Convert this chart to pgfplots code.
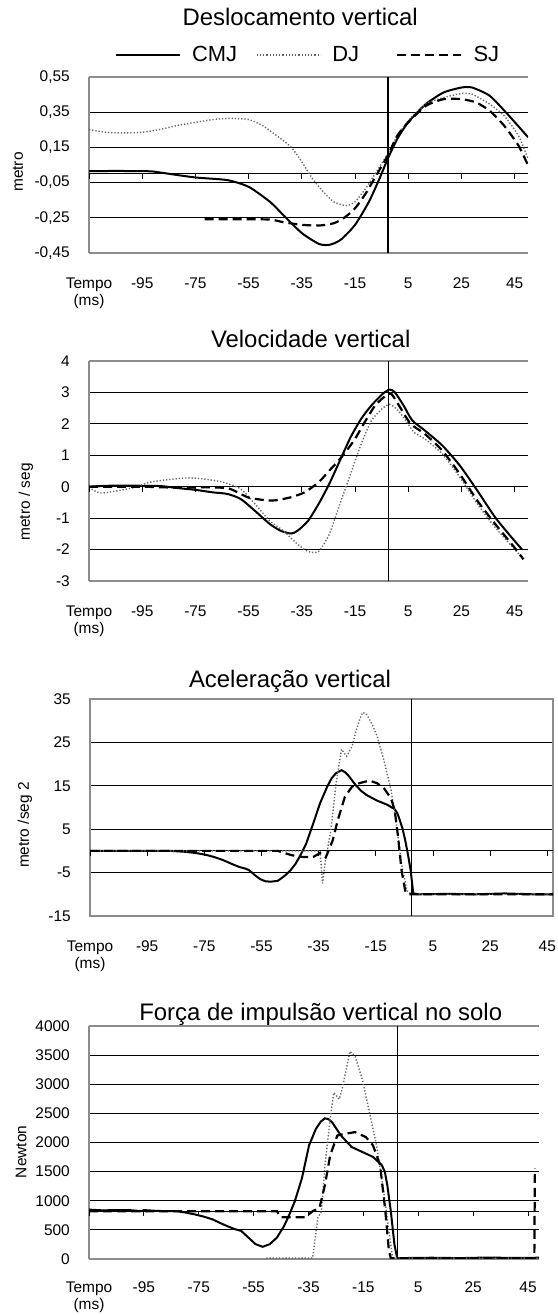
\documentclass[border=0pt]{standalone}
\usepackage{fontspec}
\setmainfont{Liberation Sans}
\usepackage{pgfplots}
\pgfplotsset{compat=1.18}

\newcommand\tickfont{\fontsize{15.5}{17}\selectfont}
\newcommand\titlefont{\fontsize{24}{26}\selectfont}
\newcommand\legfont{\fontsize{22}{24}\selectfont}

\pgfplotsset{
  panel/.style={
    scale only axis,
    xmin=-115,
    axis x line*=box, axis y line*=left,
    axis line style={draw=black!45, line width=2.2bp},
    xtick={-115,-95,-75,-55,-35,-15,5,25,45},
    xticklabels={{Tempo\\(ms)},-95,-75,-55,-35,-15,5,25,45},
    xticklabel style={anchor=north, align=center, inner sep=0pt, yshift=-25bp, font=\tickfont},
    yticklabel style={anchor=east, inner sep=0pt, xshift=-19bp, font=\tickfont},
    major tick length=0pt,
    ymajorgrids, grid style={black, line width=0.9bp},
    ylabel style={font=\tickfont, anchor=center},
    title style={font=\titlefont, anchor=base},
  },
  cmj/.style={black, line width=2bp},
  dj/.style={black!60, line width=1.4bp, dash pattern=on 1.3bp off 1.9bp},
  sj/.style={black, line width=2.2bp, dash pattern=on 9bp off 5bp},
  legend image code/.code={\draw[#1] (0bp,0bp) -- (64bp,0bp);},
}

\begin{document}
\begin{tikzpicture}
\useasboundingbox (0,0) rectangle (558bp,1315bp);

% ---- Deslocamento vertical
\begin{axis}[panel,
  at={(89bp,1062bp)}, anchor=south west,
  width=439bp, height=176bp,
  xmax=50, ymin=-0.45, ymax=0.55,
  ytick={-0.45,-0.25,-0.05,0.15,0.35,0.55},
  yticklabels={{-0,45},{-0,25},{-0,05},{0,15},{0,35},{0,55}},
  extra y ticks={0}, extra y tick labels={},
  title={Deslocamento vertical},
  title style={at={(axis description cs:0.481,1.259)}},
  ylabel={metro},
  ylabel style={at={(axis description cs:-0.162,0.46)}},
  legend columns=3,
  legend style={draw=none, fill=none, inner sep=0pt, font=\legfont,
    at={(axis description cs:0.0588,1.125)}, anchor=west,
    /tikz/every odd column/.append style={column sep=9bp}},
]
\addplot[cmj, smooth, tension=0.4] coordinates {
(-115,0.015) (-105,0.016) (-95,0.015) (-91,0.013) (-85,0.0) (-75,-0.021) (-63,-0.036)
(-55,-0.074) (-47,-0.159) (-42,-0.234) (-35,-0.337) (-28.5,-0.399) (-24.5,-0.403)
(-20.4,-0.375) (-15,-0.29) (-9.8,-0.159) (-5.8,-0.027) (-2.7,0.086) (0.9,0.199)
(5,0.293) (11.6,0.396) (18.3,0.462) (25,0.49) (29,0.49) (35.6,0.443) (42.3,0.339) (50,0.208)
};
\addlegendentry{\makebox[62bp][l]{CMJ}}
\addplot[dj, smooth, tension=0.4] coordinates {
(-115,0.251) (-108.6,0.236) (-102,0.232) (-95,0.236) (-88.6,0.251) (-82,0.274) (-75,0.292)
(-68.5,0.308) (-61.8,0.315) (-55,0.308) (-49.8,0.274) (-44.5,0.217) (-39,0.151) (-35,0.067)
(-31,-0.027) (-27,-0.102) (-23,-0.159) (-18.4,-0.181) (-15,-0.159) (-11,-0.083) (-7,0.011)
(-2.7,0.114) (0.9,0.217) (5,0.302) (11.6,0.396) (18.3,0.433) (25,0.456) (29,0.452)
(35.6,0.396) (41,0.33) (46.4,0.217) (50,0.086)
};
\addlegendentry{\makebox[62bp][l]{DJ}}
\addplot[sj, smooth, tension=0.4] coordinates {
(-71.5,-0.258) (-60,-0.258) (-47,-0.26) (-42,-0.275) (-35,-0.29) (-28.5,-0.294) (-23,-0.281)
(-19,-0.249) (-15,-0.196) (-11,-0.112) (-7,-0.008) (-2.7,0.104) (0.9,0.217) (5,0.293)
(11.6,0.386) (18.3,0.424) (25,0.424) (30.5,0.405) (35.6,0.358) (41,0.274) (46.4,0.161) (50,0.048)
};
\addlegendentry{SJ}
\draw[black, line width=2bp] (axis cs:-2.5,-0.45) -- (axis cs:-2.5,0.55);
\pgfplotsinvokeforeach{-115,-95,-75,-55,-35,-15,5,25,45}{
  \draw[black, line width=0.9bp] (axis cs:#1,0) -- ([yshift=-5bp]axis cs:#1,0);}
\end{axis}

% ---- Velocidade vertical
\begin{axis}[panel,
  at={(89bp,734bp)}, anchor=south west,
  width=439bp, height=220bp,
  xmax=50, ymin=-3, ymax=4,
  ytick={-3,-2,-1,0,1,2,3,4},
  yticklabels={-3,-2,-1,0,1,2,3,4},
  title={Velocidade vertical},
  title style={at={(axis description cs:0.505,1.035)}},
  ylabel={metro / seg},
  ylabel style={at={(axis description cs:-0.1435,0.359)}},
]
\addplot[cmj, smooth, tension=0.4] coordinates {
(-115,0) (-108,0.03) (-95,0.03) (-88,0.02) (-82,-0.04) (-75,-0.1) (-68.5,-0.18) (-63,-0.23)
(-58,-0.39) (-52.6,-0.77) (-47,-1.19) (-43,-1.4) (-39,-1.49) (-36.6,-1.4) (-32.7,-1.09)
(-28.7,-0.55) (-24.7,0.09) (-20.7,0.83) (-16.7,1.57) (-12.7,2.16) (-8.8,2.59) (-4.8,2.94)
(-2.1,3.09) (-0.1,3.01) (3.2,2.59) (6.5,2.11) (11.2,1.79) (17.8,1.31) (24.4,0.67)
(31,-0.13) (37.7,-0.98) (44.4,-1.67) (47.7,-1.99)
};
\addplot[dj, smooth, tension=0.4] coordinates {
(-115,-0.02) (-111,-0.2) (-105.7,-0.15) (-97.7,-0.02) (-92.4,0.14) (-85.8,0.22) (-77.8,0.28)
(-71.2,0.24) (-64.5,0.14) (-58,-0.07) (-52.6,-0.55) (-47,-1.09) (-42,-1.4) (-36.6,-1.83)
(-32.7,-2.06) (-28.7,-2.06) (-24.7,-1.51) (-20.7,-0.55) (-16.7,0.4) (-12.7,1.36) (-8.8,2.11)
(-4.8,2.48) (-2.1,2.62) (0.5,2.48) (3.2,2.21) (7.2,1.73) (11.2,1.52) (17.8,1.04) (24.4,0.3)
(31,-0.55) (37.7,-1.3) (44.4,-1.94) (48.3,-2.31)
};
\addplot[sj, smooth, tension=0.4] coordinates {
(-115,0) (-95,0) (-82,-0.03) (-68.5,-0.02) (-62,-0.07) (-55.2,-0.34) (-48.6,-0.43)
(-44.6,-0.43) (-39.3,-0.34) (-34,-0.18) (-28.7,0.14) (-24.7,0.51) (-20.7,0.88) (-15.4,1.47)
(-11.4,2.05) (-7.4,2.59) (-3.4,2.9) (-1.4,2.96) (1.9,2.53) (5.9,2.0) (11.2,1.68) (17.8,1.15)
(24.4,0.4) (31,-0.45) (37.7,-1.19) (44.4,-1.88) (48.3,-2.31)
};
\draw[black, line width=1bp] (axis cs:-2.5,-3) -- (axis cs:-2.5,4);
\pgfplotsinvokeforeach{-115,-95,-75,-55,-35,-15,5,25,45}{
  \draw[black, line width=0.9bp] (axis cs:#1,0) -- ([yshift=-5bp]axis cs:#1,0);}
\end{axis}

% ---- Aceleracao vertical
\begin{axis}[panel,
  at={(90bp,399bp)}, anchor=south west,
  width=463bp, height=217bp,
  xmax=47, ymin=-15, ymax=35,
  axis x line*=box, axis y line*=box,
  ytick={-15,-5,5,15,25,35},
  yticklabels={-15,-5,5,15,25,35},
  extra y ticks={0}, extra y tick labels={},
  title={Aceleração vertical},
  title style={at={(axis description cs:0.432,1.026)}},
  ylabel={metro /seg 2},
  ylabel style={at={(axis description cs:-0.1404,0.419)}},
]
\addplot[cmj] coordinates {
(-115,0) (-86.5,0) (-82,-0.2) (-77.8,-0.5) (-74.5,-0.9) (-71.6,-1.4) (-68.5,-2.1) (-65.4,-3)
(-62.8,-3.7) (-60.5,-4.1) (-59.2,-4.5) (-57.3,-5.6) (-55.5,-6.5) (-53.6,-7) (-51.8,-7.1)
(-49.3,-6.9) (-46.8,-5.7) (-44.9,-4.5) (-43.1,-3) (-41.2,-0.8) (-39.4,1.6) (-36.9,6.3)
(-34.5,11) (-32,14.8) (-30.4,16.8) (-28.9,17.9) (-27,18.6) (-25.7,18.1) (-24.5,17.3)
(-22.1,15.2) (-20.1,13.8) (-18.3,12.9) (-14.6,11.6) (-10.9,10.6) (-8.4,9.6) (-7.4,8.6)
(-6.6,7.1) (-5.6,5) (-4.7,2.4) (-3.7,-1) (-2.8,-4.5) (-1.9,-9.8) (0,-10) (10,-9.9) (20,-10)
(30,-9.8) (40,-10) (47,-10)
};
\addplot[dj] coordinates {
(-115,0) (-34.5,0) (-33.6,-7.5) (-32.8,-3) (-31.5,2) (-30.7,4.8) (-28.9,15.6) (-27,23.4)
(-25.2,21.8) (-23.3,24.1) (-22.1,27.2) (-20.8,30) (-19.6,31.9) (-18.4,31.6) (-17.2,30.3)
(-15.9,28.6) (-14.6,26.5) (-12.2,21) (-9.7,14.1) (-7.8,6.3) (-6,-3) (-4.1,-9.2) (-2.5,-10) (47,-10)
};
\addplot[sj] coordinates {
(-115,0) (-49.3,0) (-44.4,-1) (-40.6,-1.4) (-36.9,-1.4) (-34.5,-0.5) (-32.5,-1.5)
(-30.1,2.4) (-28.3,7.1) (-25.8,12.5) (-23.3,14.8) (-20.8,15.6) (-17.2,16.2) (-14.6,15.6)
(-12.2,14.5) (-9.7,12.1) (-8.4,9.4) (-7.2,3.2) (-6,-4.5) (-4.7,-9.2) (-3.5,-10) (47,-10)
};
\draw[black, line width=1bp] (axis cs:-2.5,-15) -- (axis cs:-2.5,35);
\pgfplotsinvokeforeach{-115,-95,-75,-55,-35,-15,5,25,45}{
  \draw[black, line width=0.9bp] (axis cs:#1,0) -- ([yshift=-5bp]axis cs:#1,0);}
\end{axis}

% ---- Forca de impulsao vertical no solo
\begin{axis}[panel,
  at={(89bp,56bp)}, anchor=south west,
  width=450bp, height=233bp,
  xmax=49, ymin=0, ymax=4000,
  xticklabel style={yshift=2bp},
  ytick={0,500,1000,1500,2000,2500,3000,3500,4000},
  yticklabels={0,500,1000,1500,2000,2500,3000,3500,4000},
  extra y ticks={820}, extra y tick labels={},
  title={Força de impulsão vertical no solo},
  title style={at={(axis description cs:0.515,1.0)}},
  ylabel={Newton},
  ylabel style={at={(axis description cs:-0.151,0.46)}},
]
\addplot[cmj] coordinates {
(-115,848) (-110,835) (-105,840) (-100,838) (-96,822) (-95,840) (-90,825) (-82.8,820)
(-79.5,795) (-76.3,764) (-73,725) (-69.9,679) (-67.3,620) (-64.7,566) (-62,515) (-59.5,481)
(-56.9,368) (-54.3,255) (-51.7,209) (-49.1,255) (-46.5,368) (-43.9,566) (-42,760) (-40,990)
(-37.4,1386) (-34.8,1951) (-32.3,2234) (-30.5,2360) (-29,2415) (-27.7,2400) (-26.4,2347)
(-23.2,2121) (-19.3,1923) (-15.4,1838) (-11.5,1753) (-8.3,1612) (-7.2,1500) (-6.3,1273)
(-5,820) (-3.7,255) (-2.7,15) (10,22) (20,15) (30,25) (40,18) (49,22)
};
\addplot[dj] coordinates {
(-50.4,15) (-33.5,15) (-31.6,707) (-30.3,820) (-29,1612) (-27.1,2404) (-25.8,2856)
(-23.8,2743) (-22.5,2969) (-19.9,3563) (-18,3478) (-15.4,3083) (-12.8,2517) (-10.2,1951)
(-7.6,1159) (-5.7,481) (-4.4,28) (-3,15) (49,15)
};
\addplot[sj] coordinates {
(-115,820) (-46.5,820) (-45.2,718) (-36.1,718) (-33.5,820) (-31,877) (-29,1273) (-27.1,1782)
(-24.5,2121) (-21.9,2149) (-18,2178) (-14.1,2093) (-11.5,1951) (-8.9,1612) (-7,820)
(-5.7,141) (-5,15) (47.3,15) (47.5,1550)
};
\draw[black, line width=1bp] (axis cs:-2.5,0) -- (axis cs:-2.5,4000);
\pgfplotsinvokeforeach{-115,-95,-75,-55,-35,-15,5,25,45}{
  \draw[black, line width=0.9bp] (axis cs:#1,820) -- ([yshift=-5bp]axis cs:#1,820);}
\end{axis}
\end{tikzpicture}
\end{document}
